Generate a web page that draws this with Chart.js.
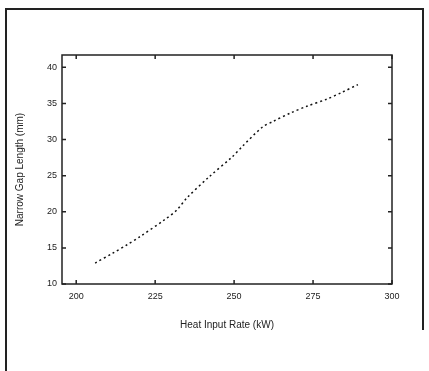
<!DOCTYPE html>
<html>
<head>
<meta charset="utf-8">
<script src="https://cdn.jsdelivr.net/npm/chart.js@4.4.0/dist/chart.umd.min.js"></script>
<style>
  html, body { margin: 0; padding: 0; background: #fff; }
  #wrap { position: relative; width: 429px; height: 371px; }
  #frame { position: absolute; left: 5px; top: 8px; width: 417px; height: 371px;
           border-left: 2px solid #222; border-top: 2px solid #222; }
  #frameR { position: absolute; left: 422px; top: 8px; width: 2px; height: 322px; background: #222; }
</style>
</head>
<body>
<div id="wrap">
  <div id="frame"></div>
  <div id="frameR"></div>
  <canvas id="c" width="429" height="371"></canvas>
</div>
<script>
// values
const heatInput = [206, 211.7, 216, 220, 228, 232, 235, 242, 249.4, 252.5, 258.9, 262.3, 268, 273, 279.4, 284, 289.2];
const gapLength = [12.9, 14.3, 15.4, 16.5, 18.9, 20.3, 21.9, 24.8, 27.6, 29.0, 31.7, 32.5, 33.7, 34.6, 35.6, 36.5, 37.6];
const xTicks = [200, 225, 250, 275, 300];
const yTicks = [10, 15, 20, 25, 30, 35, 40];

const tickFont = { family: 'Liberation Sans, Arial, sans-serif', size: 9 };
const titleFont = { family: 'Liberation Sans, Arial, sans-serif', size: 10 };

// box round the plot with inward ticks on all four sides
const boxPlugin = {
  id: 'box',
  afterDraw(chart) {
    const { ctx, chartArea: a, scales } = chart;
    ctx.save();
    ctx.strokeStyle = '#222';
    ctx.lineWidth = 1.5;
    ctx.strokeRect(a.left, a.top, a.right - a.left, a.bottom - a.top);
    ctx.beginPath();
    xTicks.forEach(v => {
      const px = scales.x.getPixelForValue(v);
      ctx.moveTo(px, a.bottom); ctx.lineTo(px, a.bottom - 4);
      ctx.moveTo(px, a.top); ctx.lineTo(px, a.top + 4);
    });
    yTicks.forEach(v => {
      const py = scales.y.getPixelForValue(v);
      ctx.moveTo(a.left, py); ctx.lineTo(a.left + 4, py);
      ctx.moveTo(a.right, py); ctx.lineTo(a.right - 4, py);
    });
    ctx.stroke();
    ctx.restore();
  }
};

new Chart(document.getElementById('c'), {
  type: 'line',
  data: {
    datasets: [{
      data: heatInput.map((x, i) => ({ x: x, y: gapLength[i] })),
      borderColor: '#111',
      borderWidth: 1.5,
      borderDash: [2, 3],
      pointRadius: 0,
      tension: 0.3,
      fill: false
    }]
  },
  options: {
    responsive: false,
    animation: false,
    layout: { padding: { left: 10, top: 55, right: 37, bottom: 36 } },
    plugins: { legend: { display: false }, tooltip: { enabled: false } },
    scales: {
      x: {
        type: 'linear',
        min: 195.5,
        max: 300,
        afterBuildTicks: s => { s.ticks = xTicks.map(v => ({ value: v })); },
        afterFit: s => { s.height = 51; },
        grid: { display: false, drawTicks: false },
        border: { display: false },
        ticks: { font: tickFont, color: '#222', padding: 7, maxRotation: 0 },
        title: { display: true, text: 'Heat Input Rate (kW)', font: titleFont, color: '#222' }
      },
      y: {
        type: 'linear',
        min: 10,
        max: 41.7,
        afterBuildTicks: s => { s.ticks = yTicks.map(v => ({ value: v })); },
        afterFit: s => { s.width = 52; },
        grid: { display: false, drawTicks: false },
        border: { display: false },
        ticks: { font: tickFont, color: '#222', padding: 5 },
        title: { display: true, text: 'Narrow Gap Length (mm)', font: titleFont, color: '#222' }
      }
    }
  },
  plugins: [boxPlugin]
});
</script>
</body>
</html>
